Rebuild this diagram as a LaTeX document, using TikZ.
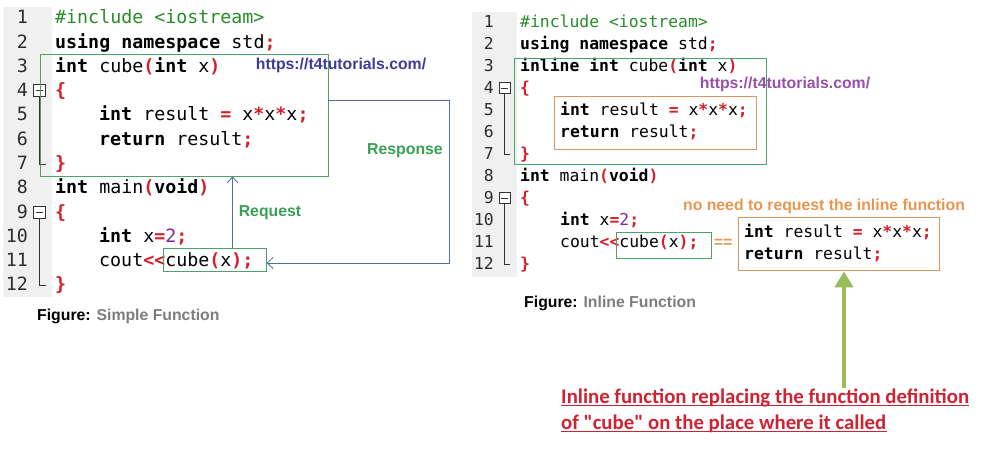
\documentclass[tikz,border=0pt]{standalone}
\usepackage{fontspec}
\setmainfont{Liberation Sans}
\setmonofont{DejaVu Sans Mono}
\newfontfamily\calib{Carlito}
\usetikzlibrary{arrows.meta}
\definecolor{boxgreen}{RGB}{75,165,105}
\definecolor{flowblue}{RGB}{80,110,160}
\definecolor{labgreen}{RGB}{55,160,85}
\definecolor{urlblue}{RGB}{60,60,155}
\definecolor{urlpurple}{RGB}{150,80,170}
\definecolor{orangeT}{RGB}{232,150,80}
\definecolor{orangeB}{RGB}{215,150,100}
\definecolor{gutter}{RGB}{240,240,240}
\definecolor{figgray}{RGB}{125,125,125}
\definecolor{redtxt}{RGB}{205,35,50}
\definecolor{arrowgreen}{RGB}{155,187,89}
\definecolor{opred}{RGB}{215,30,40}
\definecolor{incgreen}{RGB}{40,140,40}
\definecolor{numpurple}{RGB}{130,40,160}
\definecolor{lnum}{RGB}{45,45,45}
\newcommand\cL{\ttfamily\fontsize{18.3}{22}\selectfont}
\newcommand\cR{\ttfamily\fontsize{16.4}{20}\selectfont}
\newcommand\sfB{\fontsize{15.8}{18}\selectfont\bfseries}
\newcommand\K[1]{\textbf{#1}}
\newcommand\R[1]{\textcolor{opred}{\textbf{#1}}}
\tikzset{
  codeL/.style={anchor=base west, inner sep=0pt, font=\cL},
  codeR/.style={anchor=base west, inner sep=0pt, font=\cR},
  numL/.style={anchor=base east, inner sep=0pt, font=\cL, text=lnum},
  numR/.style={anchor=base east, inner sep=0pt, font=\cR, text=lnum},
  gbox/.style={draw=boxgreen, line width=0.9pt, inner sep=0pt},
  obox/.style={draw=orangeB, line width=0.9pt, inner sep=0pt},
  flow/.style={draw=flowblue, line width=0.8pt, -{Straight Barb[length=6pt,width=11pt]}},
  lbl/.style={inner sep=0pt, font=\sfB},
  fold/.style={draw=black!80, line width=0.8pt},
  bigarrow/.style={draw=arrowgreen, line width=4pt, -{Triangle[length=16pt,width=18pt]}},
  redline/.style={inner sep=0pt, anchor=base west, font=\calib\bfseries\fontsize{20.8}{24}\selectfont, text=redtxt}
}
\begin{document}
\begin{tikzpicture}[x=1pt,y=-1pt]
\fill[white] (0,0) rectangle (991,454);
\useasboundingbox (0,0) rectangle (991,454);
% ---------------- left panel ----------------
\fill[gutter] (3,7) rectangle (52,297);
\node[numL] (n1) at (28,24) {1};
\node[numL] (n2) at (28,48.3) {2};
\node[numL] (n3) at (28,72.5) {3};
\node[numL] (n4) at (28,96.8) {4};
\node[numL] (n5) at (28,121) {5};
\node[numL] (n6) at (28,145.4) {6};
\node[numL] (n7) at (28,169.6) {7};
\node[numL] (n8) at (28,193.9) {8};
\node[numL] (n9) at (28,218.2) {9};
\node[numL] (n10) at (28,242.4) {10};
\node[numL] (n11) at (28,266.7) {11};
\node[numL] (n12) at (28,291) {12};
% fold markers
\draw[fold, fill=white] (33.5,84.5) rectangle (45,96);
\draw[fold] (35.5,90.25) -- (43,90.25);
\draw[fold] (39.25,96) -- (39.25,164) -- (46,164);
\draw[fold, fill=white] (33.5,206.5) rectangle (45,218);
\draw[fold] (35.5,212.25) -- (43,212.25);
\draw[fold] (39.25,218) -- (39.25,285) -- (46,285);
% code
\node[codeL] (l1) at (55,24) {\textcolor{incgreen}{\#include <iostream>}};
\node[codeL] (l2) at (55,48.3) {\K{using namespace} std\R{;}};
\node[codeL] (l3) at (55,72.5) {\K{int} cube\R{(}\K{int} x\R{)}};
\node[codeL] (l4) at (55,96.8) {\R{\{}};
\node[codeL] (l5) at (99,121) {\K{int} result \R{=} x\R{*}x\R{*}x\R{;}};
\node[codeL] (l6) at (99,145.4) {\K{return} result\R{;}};
\node[codeL] (l7) at (55,169.6) {\R{\}}};
\node[codeL] (l8) at (55,193.9) {\K{int} main\R{(}\K{void}\R{)}};
\node[codeL] (l9) at (55,218.2) {\R{\{}};
\node[codeL] (l10) at (99,242.4) {\K{int} x\R{=}\textcolor{numpurple}{2}\R{;}};
\node[codeL] (l11) at (99,266.7) {cout\R{<<}cube\R{(}x\R{);}};
\node[codeL] (l12) at (55,291) {\R{\}}};
% boxes
\node[gbox, minimum width=288pt, minimum height=122pt] (funL) at (184,115) {};
\node[gbox, minimum width=103pt, minimum height=23pt] (callL) at (214.5,259.5) {};
\node[lbl, text=urlblue] (urlL) at (341,65) {https://t4tutorials.com/};
% request / response
\draw[flow] ([xshift=70pt]callL.north west) -- ([xshift=70pt]callL.north west |- funL.south);
\coordinate (respC) at (449,263);
\draw[flow] ([yshift=-47pt]funL.north east) -| (respC) -- (respC -| callL.east);
\node[lbl, text=labgreen] (req) at (270,213) {Request};
\node[lbl, text=labgreen] (resp) at (405,151) {Response};
\node[lbl, anchor=west] (figL) at (37,316) {Figure: \textcolor{figgray}{Simple Function}};
% ---------------- right panel ----------------
\fill[gutter] (472,12) rectangle (517,277);
\node[numR] (m1) at (494,27.5) {1};
\node[numR] (m2) at (494,49.5) {2};
\node[numR] (m3) at (494,71.5) {3};
\node[numR] (m4) at (494,93.5) {4};
\node[numR] (m5) at (494,115.5) {5};
\node[numR] (m6) at (494,137.5) {6};
\node[numR] (m7) at (494,159.5) {7};
\node[numR] (m8) at (494,181.5) {8};
\node[numR] (m9) at (494,203.5) {9};
\node[numR] (m10) at (494,225.5) {10};
\node[numR] (m11) at (494,247.5) {11};
\node[numR] (m12) at (494,269.5) {12};
\draw[fold, fill=white] (499,82.5) rectangle (510,93.5);
\draw[fold] (501,88) -- (508,88);
\draw[fold] (504.5,93.5) -- (504.5,154) -- (510,154);
\draw[fold, fill=white] (499,192.5) rectangle (510,203.5);
\draw[fold] (501,198) -- (508,198);
\draw[fold] (504.5,203.5) -- (504.5,264) -- (510,264);
\node[codeR] (r1) at (520,27.5) {\textcolor{incgreen}{\#include <iostream>}};
\node[codeR] (r2) at (520,49.5) {\K{using namespace} std\R{;}};
\node[codeR] (r3) at (520,71.5) {\K{inline int} cube\R{(}\K{int} x\R{)}};
\node[codeR] (r4) at (520,93.5) {\R{\{}};
\node[codeR] (r5) at (560,115.5) {\K{int} result \R{=} x\R{*}x\R{*}x\R{;}};
\node[codeR] (r6) at (560,137.5) {\K{return} result\R{;}};
\node[codeR] (r7) at (520,159.5) {\R{\}}};
\node[codeR] (r8) at (520,181.5) {\K{int} main\R{(}\K{void}\R{)}};
\node[codeR] (r9) at (520,203.5) {\R{\{}};
\node[codeR] (r10) at (560,225.5) {\K{int} x\R{=}\textcolor{numpurple}{2}\R{;}};
\node[codeR] (r11) at (560,247.5) {cout\R{<<}cube\R{(}x\R{);}};
\node[codeR] (r12) at (520,269.5) {\R{\}}};
\node[gbox, minimum width=252pt, minimum height=106pt] (inlineBox) at (640,111) {};
\node[obox, minimum width=202pt, minimum height=53pt] (bodyBox) at (655,122.5) {};
\node[lbl, text=urlpurple] (urlR) at (785,84) {https://t4tutorials.com/};
\node[gbox, minimum width=95pt, minimum height=26pt] (callR) at (663.5,245) {};
\node[lbl, text=orangeT] (eq) at (723,243) {==};
\node[obox, minimum width=201pt, minimum height=53pt] (repl) at (838.5,243.5) {};
\node[codeR] (p1) at (744,237.5) {\K{int} result \R{=} x\R{*}x\R{*}x\R{;}};
\node[codeR] (p2) at (744,259.5) {\K{return} result\R{;}};
\node[lbl, text=orangeT] (noneed) at (824,206) {no need to request the inline function};
\node[lbl, anchor=west] (figR) at (524,303) {Figure: \textcolor{figgray}{Inline Function}};
% red explanation
\node[redline] (red1) at (561,403) {Inline function replacing the function definition};
\node[redline] (red2) at (561,429) {of "cube" on the place where it called};
\draw[redtxt, line width=1.6pt] ([yshift=-2.5pt]red1.base west) -- ([yshift=-2.5pt]red1.base east);
\draw[redtxt, line width=1.6pt] ([yshift=-2.5pt]red2.base west) -- ([yshift=-2.5pt]red2.base east);
\coordinate (gstart) at (844,388);
\draw[bigarrow] (gstart) -- ([yshift=-1pt]gstart |- repl.south);
\end{tikzpicture}
\end{document}
